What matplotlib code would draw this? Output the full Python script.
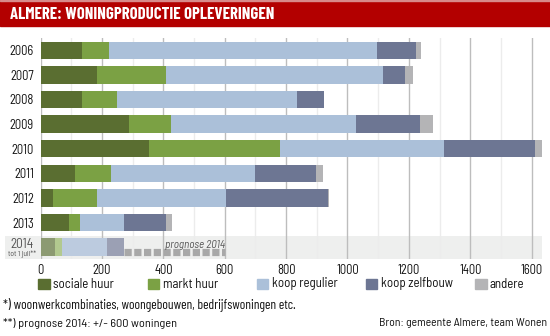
import matplotlib
matplotlib.use("Agg")
import matplotlib.pyplot as plt
from matplotlib.patches import Rectangle
from matplotlib.transforms import blended_transform_factory
import numpy as np

plt.rcParams['font.family'] = ['Barlow Semi Condensed', 'DejaVu Sans']

years = ['2006', '2007', '2008', '2009', '2010', '2011', '2012', '2013']
series = ['sociale huur', 'markt huur', 'koop regulier', 'koop zelfbouw', 'andere']
sociale = [135, 184, 136, 288, 353, 113, 40, 92]
markt = [88, 224, 112, 138, 428, 116, 143, 36]
regulier = [874, 707, 589, 601, 533, 469, 420, 142]
zelfbouw = [127, 72, 87, 209, 297, 199, 334, 140]
andere = [15, 28, 0, 42, 30, 24, 4, 19]
y2014 = [46, 23, 146, 55, 0]
prognose2014 = 600
xticks = [0, 200, 400, 600, 800, 1000, 1200, 1400, 1600]

colors = ['#5a6e31', '#7ba144', '#abc0d9', '#6d7693', '#b4b4b6']
colors14 = ['#8c9a72', '#b2c98f', '#bccbdf', '#9ba0b4', '#cfcfcf']

W, H = 550, 336
fig = plt.figure(figsize=(W / 100, H / 100), dpi=100)
fig.patch.set_facecolor('white')

# title bar
fig.add_artist(Rectangle((0, 1 - 26 / H), 1, 26 / H, transform=fig.transFigure,
                         color='#b30000', zorder=0))
fig.add_artist(Rectangle((0, 1 - 1 / H), 1, 1 / H, transform=fig.transFigure,
                         color='#d88a8a', zorder=0.5))
fig.text(10 / W, 1 - 14.5 / H, 'ALMERE: WONINGPRODUCTIE OPLEVERINGEN', color='white',
         fontsize=12.1, fontweight='bold', va='center', ha='left',
         family=['Barlow Condensed', 'DejaVu Sans'])

x0, x1 = 40.7, 541.7
ytop, ybot = 38, 259.4
ax = fig.add_axes([x0 / W, 1 - ybot / H, (x1 - x0) / W, (ybot - ytop) / H])
ax.set_facecolor('none')
ax.set_xlim(0, 1633)
ax.set_ylim(8.5, -0.5)

data = np.array([sociale, markt, regulier, zelfbouw, andere], dtype=float)
ypos = np.arange(len(years))
left = np.zeros(len(years))
for i, name in enumerate(series):
    ax.barh(ypos, data[i], left=left, height=0.71, color=colors[i], label=name, zorder=2)
    left += data[i]

# 2014 row
l14 = 0
for i, v in enumerate(y2014):
    if v > 0:
        ax.barh(8, v, left=l14, height=0.71, color=colors14[i], zorder=2)
    l14 += v
ax.hlines(8 + 0.21, l14 + 2, prognose2014, colors='#a8a8a8', linewidth=5.2,
          linestyles=(0, (1.0, 0.35)), zorder=2)
ax.text(prognose2014, 7.93, 'prognose 2014', style='italic', color='#555555',
        fontsize=8, ha='right', va='center', zorder=3)

# band behind 2014
bt = blended_transform_factory(fig.transFigure, ax.transData)
ax.add_patch(Rectangle((5 / W, 7.55), (541.7 - 5) / W, 0.95, transform=bt,
                       color='#eeefee', zorder=0.1, clip_on=False, linewidth=0))

# grid
ax.set_xticks(xticks)
ax.set_xticks(np.arange(100, 1600, 200), minor=True)
ax.grid(axis='x', which='major', color='#bdbdbd', linewidth=1.0, zorder=0.5)
ax.grid(axis='x', which='minor', color='#ececec', linewidth=1.0, zorder=0.5)
ax.set_axisbelow(True)
ax.tick_params(axis='both', which='both', length=0)
ax.tick_params(axis='x', labelsize=9, pad=3, colors='#111111')
ax.set_yticks(ypos)
ax.set_yticklabels(years, fontsize=9, color='#111111')
ax.tick_params(axis='y', pad=5)
for s in ax.spines.values():
    s.set_visible(False)

# 2014 label
lbl_x = -7 / (x1 - x0) * 1633
ax.text(lbl_x, 7.88, '2014', ha='right', va='center', fontsize=9.5, color='#555555')
ax.text(lbl_x + 2 / (x1 - x0) * 1633, 8.3, 'tot 1 juli**', ha='right', va='center',
        fontsize=5.5, color='#555555')

# legend
lx = [38.3, 147.7, 256.7, 365.7, 475]
for i, name in enumerate(series):
    fig.add_artist(Rectangle((lx[i] / W, 1 - 288.7 / H), 11.5 / W, 10 / H,
                             transform=fig.transFigure, color=colors[i]))
    fig.text((lx[i] + 15) / W, 1 - 284 / H, name, fontsize=9.3, va='center',
             ha='left', color='#111111')

fig.text(3 / W, 1 - 305.5 / H, '*) woonwerkcombinaties, woongebouwen, bedrijfswoningen etc.',
         fontsize=9.7, va='center', ha='left', color='#111111',
         family=['Barlow Condensed', 'DejaVu Sans'])
fig.text(3 / W, 1 - 323.5 / H, '**) prognose 2014: +/- 600 woningen',
         fontsize=8.9, va='center', ha='left', color='#111111')
fig.text(547 / W, 1 - 323.5 / H, 'Bron: gemeente Almere, team Wonen',
         fontsize=8.4, va='center', ha='right', color='#111111')

fig.savefig('out.png', dpi=100)
